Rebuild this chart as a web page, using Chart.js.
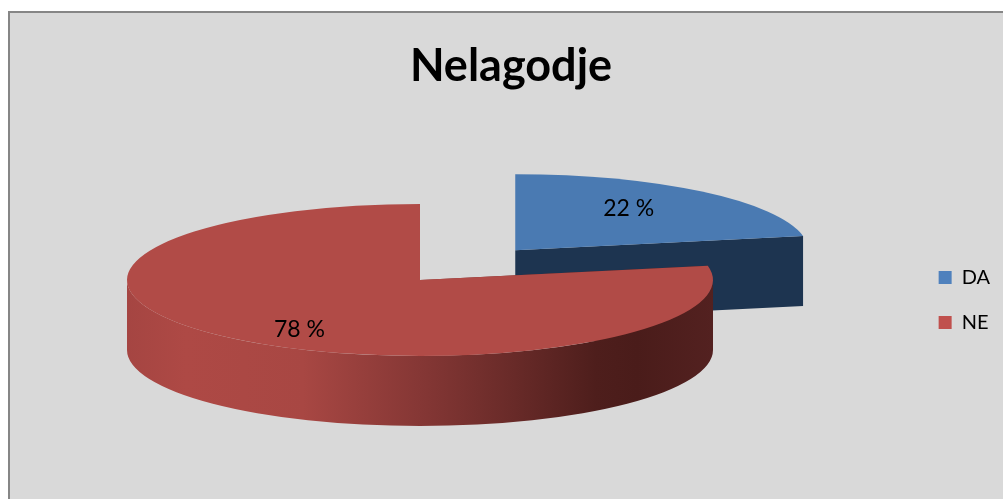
<!DOCTYPE html>
<html>
<head>
<meta charset="utf-8">
<title>Nelagodje</title>
<script src="https://cdn.jsdelivr.net/npm/chart.js@4"></script>
<style>
  html, body { margin: 0; padding: 0; background: #fff; overflow: hidden; }
  canvas { display: block; }
</style>
</head>
<body>
<canvas id="pie" width="1003" height="499"></canvas>
<script>
const categories = ["DA", "NE"];
const shares = [22, 78];

const topColors = ["#4a7ab2", "#b14b47"];
const legendColors = ["#4f81bd", "#c0504d"];
const fontName = "Lato, 'Open Sans', sans-serif";

// how the flat pie is tilted on the page
const view = { x: 420, y: 280, rx: 293, ry: 76, depth: 70 };
const explode = [0.51, 0];
const labelShift = [[-21, 1], [14, 7]];

function wallFill(ctx, i) {
  if (i === 0) return "#1d3450";
  const g = ctx.createLinearGradient(view.x - view.rx, 0, view.x + view.rx, 0);
  g.addColorStop(0, "#a54542");
  g.addColorStop(0.1, "#ae4945");
  g.addColorStop(0.3, "#a84743");
  g.addColorStop(0.5, "#853735");
  g.addColorStop(0.64, "#6c2c2a");
  g.addColorStop(0.8, "#4e1e1c");
  g.addColorStop(0.87, "#4a1c1a");
  g.addColorStop(1, "#532120");
  return g;
}

const tiltedPie = {
  id: "tiltedPie",
  beforeDraw(chart) {
    const { ctx, width, height } = chart;
    ctx.save();
    ctx.fillStyle = "#d9d9d9";
    ctx.fillRect(9, 12, width, height);
    ctx.strokeStyle = "#868686";
    ctx.lineWidth = 2;
    ctx.strokeRect(9, 12, width, height);
    ctx.restore();
  },
  beforeDatasetsDraw(chart) {
    const ctx = chart.ctx;
    const arcs = chart.getDatasetMeta(0).data;

    arcs.forEach((arc, i) => {
      const mid = (arc.startAngle + arc.endAngle) / 2;
      const cx = view.x + Math.cos(mid) * explode[i] * view.rx;
      const cy = view.y + Math.sin(mid) * explode[i] * view.ry;

      ctx.save();
      ctx.fillStyle = wallFill(ctx, i);

      // cut faces
      [arc.startAngle, arc.endAngle].forEach((a) => {
        const ex = cx + Math.cos(a) * view.rx;
        const ey = cy + Math.sin(a) * view.ry;
        ctx.beginPath();
        ctx.moveTo(cx, cy);
        ctx.lineTo(ex, ey);
        ctx.lineTo(ex, ey + view.depth);
        ctx.lineTo(cx, cy + view.depth);
        ctx.closePath();
        ctx.fill();
      });

      // rim, only the part facing the viewer
      const a0 = Math.max(arc.startAngle, 0);
      const a1 = Math.min(arc.endAngle, Math.PI);
      if (a1 > a0) {
        ctx.beginPath();
        ctx.ellipse(cx, cy + view.depth, view.rx, view.ry, 0, a0, a1);
        ctx.ellipse(cx, cy, view.rx, view.ry, 0, a1, a0, true);
        ctx.closePath();
        ctx.fill();
      }

      // top face is the library's own arc, squashed
      ctx.translate(cx, cy);
      ctx.scale(view.rx / arc.outerRadius, view.ry / arc.outerRadius);
      ctx.translate(-arc.x, -arc.y);
      arc.draw(ctx);
      ctx.restore();
    });

    ctx.save();
    ctx.fillStyle = "#000";
    ctx.font = "23px " + fontName;
    ctx.textAlign = "center";
    ctx.textBaseline = "middle";
    arcs.forEach((arc, i) => {
      const mid = (arc.startAngle + arc.endAngle) / 2;
      const r = explode[i] + 0.72;
      const x = view.x + Math.cos(mid) * r * view.rx + labelShift[i][0];
      const y = view.y + Math.sin(mid) * r * view.ry + labelShift[i][1];
      ctx.fillText(shares[i] + " %", x, y);
    });
    ctx.restore();
    return false;
  },
};

new Chart(document.getElementById("pie"), {
  type: "pie",
  data: {
    labels: categories,
    datasets: [{ data: shares, backgroundColor: topColors, borderWidth: 0 }],
  },
  plugins: [tiltedPie],
  options: {
    responsive: false,
    animation: false,
    layout: { padding: { top: 39, left: 22, right: 3, bottom: -62 } },
    plugins: {
      tooltip: { enabled: false },
      title: {
        display: true,
        text: "Nelagodje",
        color: "#000",
        font: { family: fontName, size: 45, weight: "bold" },
        padding: { top: 0, bottom: 20 },
      },
      legend: {
        position: "right",
        labels: {
          boxWidth: 13,
          boxHeight: 13,
          padding: 25,
          color: "#000",
          font: { family: fontName, size: 20 },
          generateLabels: () =>
            categories.map((text, i) => ({
              text,
              fillStyle: legendColors[i],
              strokeStyle: legendColors[i],
              lineWidth: 0,
              index: i,
            })),
        },
      },
    },
  },
});
</script>
</body>
</html>
